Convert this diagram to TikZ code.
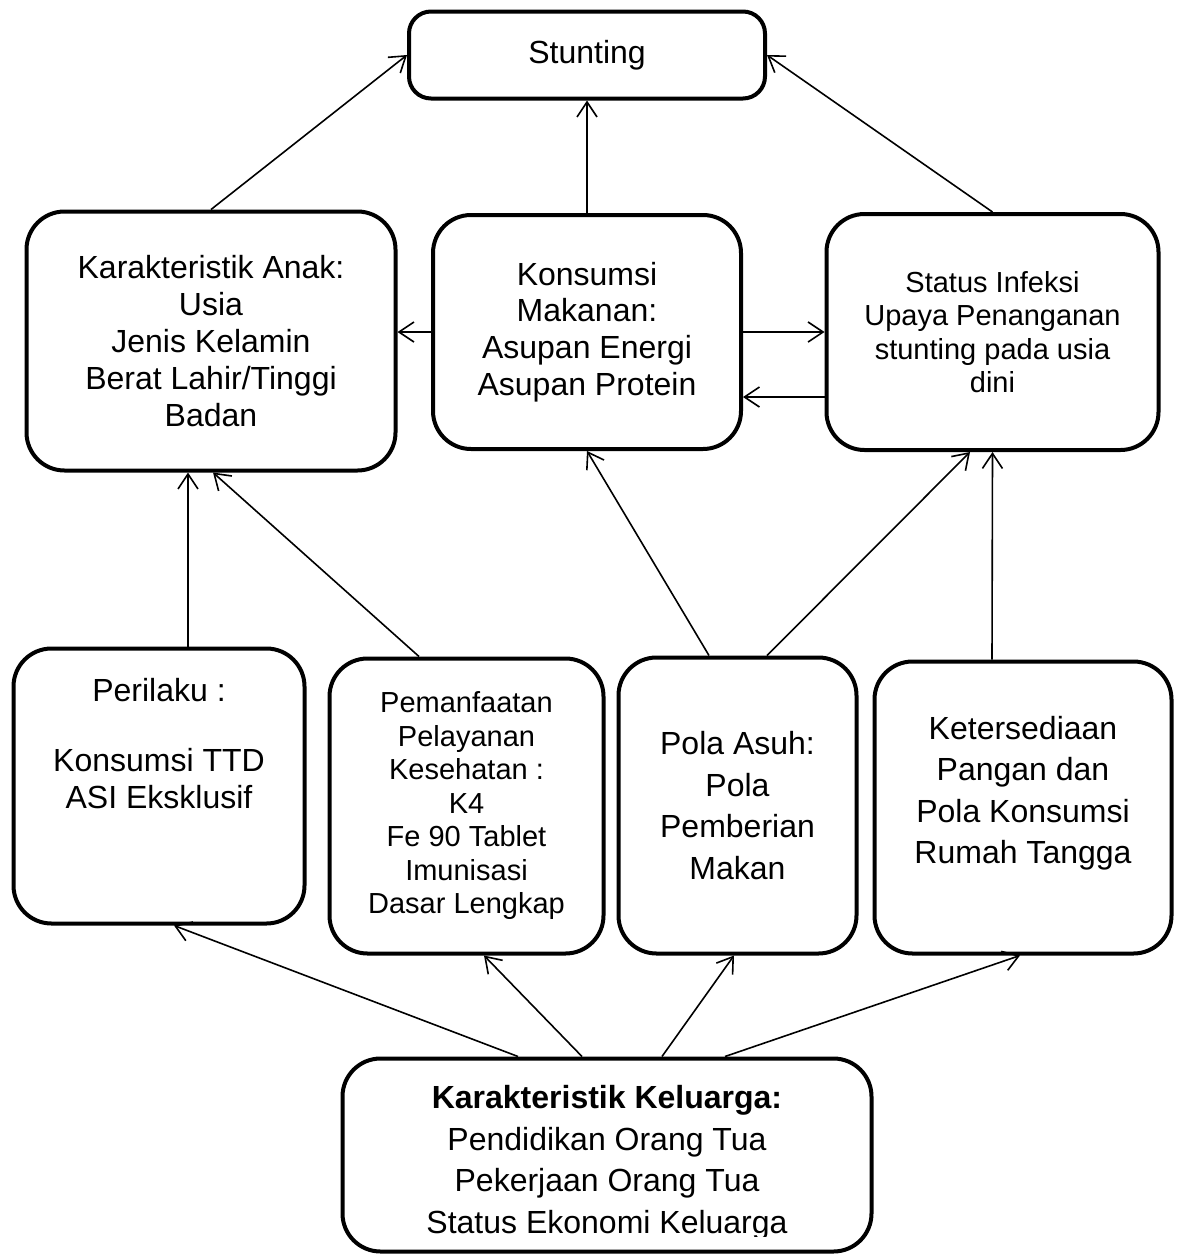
\documentclass[tikz,border=0pt]{standalone}
\usepackage{fontspec}
\setmainfont{Liberation Sans}
\usetikzlibrary{arrows.meta}

\begin{document}
\begin{tikzpicture}
[x=1pt,y=-1pt,
  boxDecorate/.style={shape=rectangle,draw,line width=4pt,rounded corners=38pt,inner sep=0pt,align=center},
  lineDecorate/.style={-{Straight Barb[length=15pt,width=20pt]},line width=1.6pt},
  textBig/.style={font=\fontsize{32}{36.8}\selectfont},
  textSmall/.style={font=\fontsize{29}{33.5}\selectfont},
  textLoose/.style={font=\fontsize{32}{41.5}\selectfont}]
\useasboundingbox (0,0) rectangle (1183,1256);
%% boxes
\node (stunting) at (587,55) [boxDecorate,textBig,rounded corners=22pt,minimum width=356pt,minimum height=87pt] {Stunting};
\node (anak) at (211,341) [boxDecorate,textBig,minimum width=369pt,minimum height=259pt]
  {Karakteristik Anak:\\Usia\\Jenis Kelamin\\Berat Lahir/Tinggi\\Badan};
\node (konsumsi) at (587,332) [boxDecorate,textBig,minimum width=308pt,minimum height=234pt]
  {Konsumsi\\Makanan:\\Asupan Energi\\Asupan Protein};
\node (status) at (992.5,332) [boxDecorate,textSmall,minimum width=332pt,minimum height=236pt]
  {Status Infeksi\\Upaya Penanganan\\stunting pada usia\\dini};
\node (perilaku) at (159,786) [boxDecorate,textBig,minimum width=291pt,minimum height=275pt]
  {Perilaku :\\[33pt]Konsumsi TTD\\ASI Eksklusif\\[48pt]\mbox{}};
\node (pemanfaatan) at (466.5,806) [boxDecorate,textSmall,minimum width=274pt,minimum height=295pt]
  {Pemanfaatan\\Pelayanan\\Kesehatan :\\K4\\Fe 90 Tablet\\Imunisasi\\Dasar Lengkap};
\node (polaasuh) at (737.5,805.5) [boxDecorate,textLoose,minimum width=238pt,minimum height=296pt]
  {Pola Asuh:\\Pola\\Pemberian\\Makan};
\node (ketersediaan) at (1023,807.5) [boxDecorate,textLoose,minimum width=297pt,minimum height=292pt]
  {Ketersediaan\\Pangan dan\\Pola Konsumsi\\Rumah Tangga\\[-6pt]\mbox{}};
\node (keluarga) at (607,1155) [boxDecorate,minimum width=529pt,minimum height=193pt] {};
\begin{scope}
  \clip (keluarga.north west) rectangle ([yshift=17pt]keluarga.south east);
  \node (keluargatext) at ([yshift=-29pt]keluarga.north) [anchor=north,textLoose,align=center,inner sep=0pt]
    {\textbf{Karakteristik Keluarga:}\\Pendidikan Orang Tua\\Pekerjaan Orang Tua\\Status Ekonomi Keluarga};
\end{scope}
%% arrows
\path
\foreach \startnode/\sx/\endnode/\ex in {
  anak.north/0/stunting.west/0, konsumsi.north/0/stunting.south/0,
  status.north/0/stunting.east/0,
  perilaku.north/29/anak.south/-23, pemanfaatan.north/-47.5/anak.south/2,
  polaasuh.north/-28.5/konsumsi.south/0, polaasuh.north/29.5/status.south/-22.5,
  ketersediaan.north/-31/status.south/0,
  keluarga.north/-89/perilaku.south/15, keluarga.north/-25/pemanfaatan.south/17.5,
  keluarga.north/55/polaasuh.south/-3.5, keluarga.north/118/ketersediaan.south/-3}
{
  ([xshift=\sx pt]\startnode) edge[lineDecorate] ([xshift=\ex pt]\endnode)
};
\path (konsumsi.west) edge[lineDecorate] (konsumsi.west -| anak.east)
  (konsumsi.east) edge[lineDecorate] (konsumsi.east -| status.west)
  ([yshift=-65pt]status.west) edge[lineDecorate] ([yshift=-65pt]konsumsi.east);
\end{tikzpicture}
\end{document}
